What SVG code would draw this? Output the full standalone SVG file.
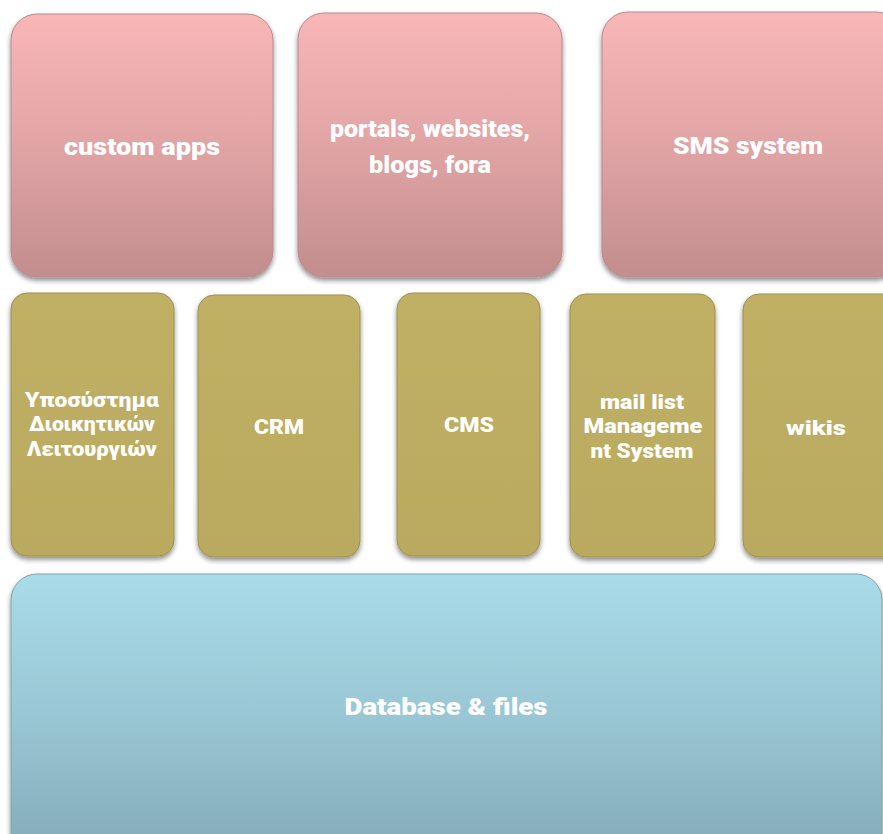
<svg xmlns="http://www.w3.org/2000/svg" width="883" height="834" viewBox="0 0 883 834">
<defs>
<linearGradient id="gPink" x1="0" y1="0" x2="0" y2="1">
<stop offset="0" stop-color="#f8b6b7"/><stop offset="0.5" stop-color="#e1a4a5"/><stop offset="1" stop-color="#c28d8e"/>
</linearGradient>
<linearGradient id="gOlive" x1="0" y1="0" x2="0" y2="1">
<stop offset="0" stop-color="#bfb064"/><stop offset="1" stop-color="#b9aa60"/>
</linearGradient>
<linearGradient id="gBlue" x1="0" y1="0" x2="0" y2="1">
<stop offset="0" stop-color="#a9dbe8"/><stop offset="0.5" stop-color="#99c6d4"/><stop offset="1" stop-color="#82a9b5"/>
</linearGradient>
<filter id="sh" x="-10%" y="-10%" width="120%" height="120%">
<feDropShadow dx="0" dy="3" stdDeviation="2.5" flood-color="#000" flood-opacity="0.45"/>
</filter>
</defs>
<style>
.pink{fill:url(#gPink);stroke:#b98a8b;stroke-width:1}
.olive{fill:url(#gOlive);stroke:#9d914e;stroke-width:1}
.blue{fill:url(#gBlue);stroke:#7fa4b0;stroke-width:1}
text{font-family:Roboto,"Liberation Sans",Arial,sans-serif;font-weight:900;fill:#ffffff;text-anchor:middle}
.big{font-size:24px}
.med{font-size:20px}
</style>
<g id="custom-apps">
<rect class="pink" x="11" y="14" width="262" height="263" rx="26" filter="url(#sh)"/>
<text class="big" x="142" y="155" textLength="156" lengthAdjust="spacingAndGlyphs">custom apps</text>
</g>
<g id="portals">
<rect class="pink" x="298" y="13" width="264" height="264" rx="26" filter="url(#sh)"/>
<text class="big" x="430" y="137" textLength="200" lengthAdjust="spacingAndGlyphs">portals, websites,</text>
<text class="big" x="430" y="173" textLength="122" lengthAdjust="spacingAndGlyphs">blogs, fora</text>
</g>
<g id="sms">
<rect class="pink" x="602" y="12" width="300" height="265" rx="26" filter="url(#sh)"/>
<text class="big" x="748" y="154" textLength="150" lengthAdjust="spacingAndGlyphs">SMS system</text>
</g>
<g id="admin">
<rect class="olive" x="11" y="293" width="163" height="263" rx="16" filter="url(#sh)"/>
<text class="med" x="92" y="407" textLength="134" lengthAdjust="spacingAndGlyphs">Υποσύστημα</text>
<text class="med" x="92" y="431" textLength="126" lengthAdjust="spacingAndGlyphs">Διοικητικών</text>
<text class="med" x="92" y="456" textLength="130" lengthAdjust="spacingAndGlyphs">Λειτουργιών</text>
</g>
<g id="crm">
<rect class="olive" x="198" y="295" width="162" height="262" rx="16" filter="url(#sh)"/>
<text class="med" x="279" y="434" textLength="50" lengthAdjust="spacingAndGlyphs">CRM</text>
</g>
<g id="cms">
<rect class="olive" x="397" y="293" width="143" height="263" rx="16" filter="url(#sh)"/>
<text class="med" x="469" y="432" textLength="50" lengthAdjust="spacingAndGlyphs">CMS</text>
</g>
<g id="mail">
<rect class="olive" x="570" y="294" width="145" height="263" rx="16" filter="url(#sh)"/>
<text class="med" x="642" y="409" textLength="84" lengthAdjust="spacingAndGlyphs">mail list</text>
<text class="med" x="643" y="433" textLength="119" lengthAdjust="spacingAndGlyphs">Manageme</text>
<text class="med" x="642" y="458" textLength="103" lengthAdjust="spacingAndGlyphs">nt System</text>
</g>
<g id="wikis">
<rect class="olive" x="743" y="294" width="160" height="263" rx="16" filter="url(#sh)"/>
<text class="med" x="816" y="435" textLength="60" lengthAdjust="spacingAndGlyphs">wikis</text>
</g>
<g id="database">
<rect class="blue" x="11" y="574" width="871" height="290" rx="26" filter="url(#sh)"/>
<text class="big" x="446" y="715" textLength="203" lengthAdjust="spacingAndGlyphs">Database &amp; files</text>
</g>
<g id="connectors"/>
</svg>
